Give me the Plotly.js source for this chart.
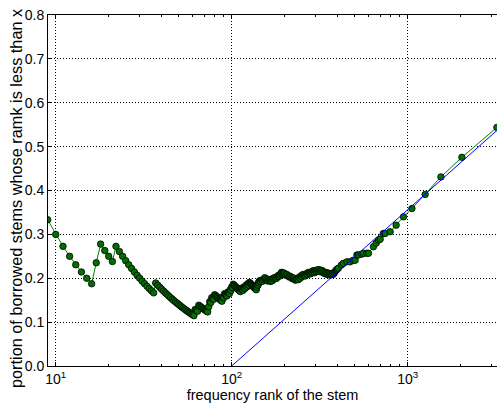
<!DOCTYPE html>
<html>
<head>
<meta charset="utf-8">
<script src="https://cdn.plot.ly/plotly-3.0.1.min.js"></script>
<style>html,body{margin:0;padding:0;background:#fff;overflow:hidden}#chart{width:497px;height:408px}</style>
</head>
<body>
<div id="chart"></div>
<script>
// rank of the stem (x) and portion of borrowed stems with rank < x (y)
const rankLow = [9,10,11,12,13,14,15,16,17,18,19,20,21,22,23,24,25,26,27,28,29,30,31,32,33,34,35,36,37,38,39,40,41,42,43,44,45,46,47,48,49,50,51,52,53,54,55,56,57,58,59,60,61];
const portionLow = [.3333,.3000,.2727,.2500,.2308,.2143,.2000,.1875,.2353,.2778,.2632,.2500,.2381,.2727,.2609,.2500,.2400,.2308,.2222,.2143,.2069,.2000,.1935,.1875,.1818,.1765,.1714,.1667,.1892,.1842,.1795,.1750,.1707,.1667,.1628,.1591,.1556,.1522,.1489,.1458,.1429,.1400,.1373,.1346,.1321,.1296,.1273,.1250,.1228,.1207,.1186,.1167,.1148];

const rankMid = [62,63,64,65,66,67,68,69,70,71,72,73,74,75,76,77,78,79,80,81,82,83,84,85,86,87,88,89,90,91,92,93,94,95,96,97,98,99,100,101,102,103,104,105,106,107,108,109,110,111,112,113,114,115,116,117,118,119,120,121,122,123,124,125,126,127,128,129,130,131,132,133,134,135,136,137,138,139,140,141,142,143,144,145];
const portionMid = [.1290,.1270,.1250,.1385,.1364,.1343,.1324,.1304,.1286,.1268,.1250,.1233,.1351,.1467,.1447,.1558,.1538,.1519,.1625,.1605,.1585,.1566,.1548,.1529,.1512,.1494,.1477,.1573,.1556,.1648,.1630,.1613,.1596,.1684,.1667,.1649,.1735,.1717,.1800,.1782,.1863,.1845,.1827,.1810,.1792,.1776,.1759,.1743,.1727,.1712,.1696,.1770,.1754,.1739,.1724,.1795,.1780,.1765,.1833,.1818,.1803,.1870,.1855,.1840,.1905,.1890,.1875,.1860,.1846,.1832,.1818,.1805,.1791,.1778,.1765,.1752,.1739,.1799,.1857,.1844,.1901,.1888,.1944,.1931];

const rankUpper = [146,148,150,152,154,156,158,160,162,164,166,168,170,172,174,176,178,180,182,184,186,188,190,192,194,196,198,200,203,206,209,212,215,218,221,224,227,230,233,236,239,242,245,248,251,254,257,260,263,266,269,272,275,278,281,284,287,290,293,296,299,302,306,310,314,318,322,326,330,334,338,342,346,350,354,358,362,366,370,374,378,382,386,390,394,398];
const portionUpper = [.1918,.1959,.1933,.1974,.2013,.1987,.1962,.1938,.1975,.1951,.1928,.1964,.1941,.2000,.1983,.2017,.1994,.2000,.2033,.2065,.2043,.2074,.2105,.2135,.2113,.2092,.2121,.2100,.2069,.2087,.2057,.2028,.2047,.2018,.1991,.2009,.1982,.1957,.1974,.1992,.1967,.2025,.2000,.2056,.2032,.2087,.2062,.2077,.2053,.2105,.2082,.2132,.2109,.2122,.2100,.2148,.2125,.2172,.2150,.2128,.2174,.2152,.2190,.2161,.2197,.2170,.2143,.2178,.2152,.2126,.2101,.2135,.2110,.2086,.2119,.2095,.2072,.2104,.2081,.2112,.2090,.2120,.2150,.2170,.2190,.2210];

const rankHigh = [404,420,431,452,471,490,503,515,525,549,561,586,599,639,662,683,698,727,745,795,860,947,1057,1257,1545,2032,3214];
const portionHigh = [.2230,.2300,.2340,.2375,.2375,.2410,.2410,.2530,.2530,.2550,.2570,.2570,.2570,.2720,.2800,.2870,.2890,.3020,.3020,.3060,.3210,.3400,.3590,.3910,.4310,.4755,.5437];

// straight reference line (in log-x space)
const fitX = [100, 3300];
const fitY = [0, 0.541];

const xTickVals = [10, 100, 1000];
const xTickText = ['10<sup>1</sup>', '10<sup>2</sup>', '10<sup>3</sup>'];
const xMinorVals = [2,3,4,5,6,7,8,9,20,30,40,50,60,70,80,90,200,300,400,500,600,700,800,900,2000,3000];

const xTitle = 'frequency rank of the stem';
const yTitle = 'portion of borrowed stems whose ramk is less than x';

const ranks = rankLow.concat(rankMid, rankUpper, rankHigh);
const portions = portionLow.concat(portionMid, portionUpper, portionHigh);

const font = 'Liberation Sans, Arial, Helvetica, sans-serif';

const traces = [
  {
    x: ranks, y: portions, type: 'scatter', mode: 'lines+markers',
    line: {color: '#008000', width: 1},
    marker: {color: '#007000', size: 6.5, line: {color: '#000000', width: 0.8}},
    showlegend: false, hoverinfo: 'skip'
  },
  {
    x: fitX, y: fitY, type: 'scatter', mode: 'lines',
    line: {color: '#0000ff', width: 1},
    showlegend: false, hoverinfo: 'skip'
  }
];

const layout = {
  width: 497, height: 408,
  margin: {l: 48, r: 0, t: 15, b: 42},
  paper_bgcolor: '#ffffff', plot_bgcolor: '#ffffff',
  font: {family: font, color: '#000000'},
  xaxis: {
    type: 'log', range: [0.9562, 3.5076],
    tickmode: 'array', tickvals: xTickVals, ticktext: xTickText,
    ticks: 'inside', ticklen: 4, tickwidth: 1, tickcolor: '#000',
    showline: true, linecolor: '#000', linewidth: 1, mirror: 'ticks',
    showgrid: true, gridcolor: '#000', gridwidth: 1, griddash: '1px,2px',
    zeroline: false,
    tickfont: {size: 14, family: font},
    minor: {tickmode: 'array', tickvals: xMinorVals, ticks: 'inside', ticklen: 2, tickcolor: '#000', showgrid: false},
    title: {text: xTitle, font: {size: 14.5, family: font}, standoff: 3}
  },
  yaxis: {
    range: [0, 0.8], dtick: 0.1, tick0: 0, tickformat: '.1f',
    ticks: 'inside', ticklen: 4, tickwidth: 1, tickcolor: '#000',
    showline: true, linecolor: '#000', linewidth: 1,
    showgrid: true, gridcolor: '#000', gridwidth: 1, griddash: '1px,2px',
    zeroline: false,
    tickfont: {size: 14, family: font},
    title: {text: ''}
  },
  annotations: [{
    text: yTitle, xref: 'paper', yref: 'paper',
    x: -0.0713, y: 0.4786, xanchor: 'center', yanchor: 'middle',
    textangle: -90, showarrow: false,
    font: {size: 16.3, family: font, color: '#000'}
  }]
};

Plotly.newPlot('chart', traces, layout, {staticPlot: true, displayModeBar: false});
</script>
</body>
</html>
